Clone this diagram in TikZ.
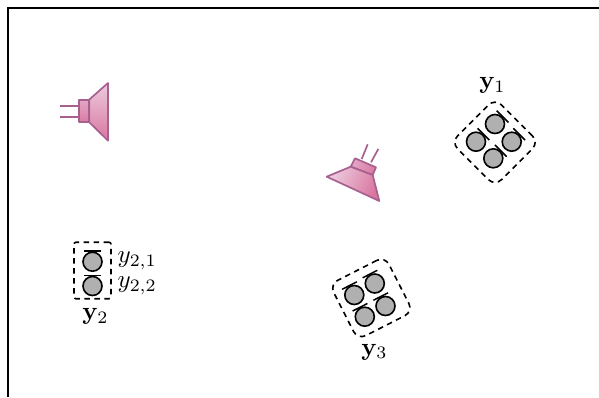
\documentclass[tikz,border=0pt]{standalone}
\definecolor{spkline}{HTML}{A8608F}
\definecolor{spklight}{HTML}{ECCBDF}
\definecolor{spkdark}{HTML}{D9769F}
\definecolor{spkmid}{HTML}{E3A6C6}
\definecolor{micfill}{HTML}{B0B0B0}
\tikzset{
  micnode/.style={circle,draw=black,fill=micfill,line width=1.6pt,minimum size=19pt,inner sep=0pt},
  micbar/.style={draw=black,line width=1.5pt},
  arraybox/.style={draw=black,line width=1.6pt,dash pattern=on 5.5pt off 4.5pt,rounded corners=9pt},
  spkwire/.style={draw=spkline,line width=1.7pt},
  spkedge/.style={draw=spkline,line width=1.7pt,line join=round},
  lab/.style={inner sep=0pt,scale=2.5},
}
\newcommand{\micat}[4]{%
  \node[micnode] (#1) at (#2,#3) {};
  \draw[micbar,shift={(#2,#3)},rotate=#4] (-8.3,-10.6) -- (8.3,-10.6);
}
\begin{document}
\begin{tikzpicture}[x=1pt,y=-1pt]
\useasboundingbox (0,0) rectangle (599,397);
\draw[black,line width=1.5pt] (8,397) -- (8,8) -- (599,8);
% speaker 1
\draw[spkwire] (60,105.7) -- (79,105.7);
\draw[spkwire] (60,117) -- (79,117);
\path[spkedge,top color=spkmid,bottom color=spkdark!90!spkmid] (79,100) rectangle (89.3,122.3);
\path[spkedge,top color=spklight,bottom color=spkdark] (89.3,99.5) -- (108,83) -- (108,140.7) -- (89.3,122.3) -- cycle;
% speaker 2
\draw[spkwire] (361.7,159) -- (367.7,144.3);
\draw[spkwire] (371,162.3) -- (378.3,149);
\path[spkedge,shading=axis,top color=spkmid,bottom color=spkdark!90!spkmid,shading angle=65] (355,158.3) -- (376,167.3) -- (372.7,175) -- (350.7,166.7) -- cycle;
\path[spkedge,shading=axis,top color=spklight,bottom color=spkdark,shading angle=65] (350.7,166.7) -- (372.7,175) -- (379.3,201) -- (326.7,176.7) -- cycle;
% y1
\node[arraybox,minimum width=62pt,minimum height=62pt,rotate=-45,inner sep=0pt] (box1) at (495,142.3) {};
\micat{m11}{495}{124}{-45}
\micat{m12}{476}{141.7}{-45}
\micat{m13}{511.7}{141.7}{-45}
\micat{m14}{493.3}{158.3}{-45}
\node[lab] (ly1) at (492.5,85.5) {$\mathbf{y}_1$};
% y2
\node[arraybox,rounded corners=2pt,minimum width=37pt,minimum height=56.5pt,inner sep=0pt] (box2) at (92.5,270.5) {};
\micat{m21}{92.5}{261.7}{0}
\micat{m22}{92.5}{286}{0}
\node[lab] (ly2) at (95.5,316.5) {$\mathbf{y}_2$};
\node[lab] (l21) at (137.2,260.5) {$y_{2,1}$};
\node[lab] (l22) at (137.2,286) {$y_{2,2}$};
% y3
\node[arraybox,minimum width=62pt,minimum height=62pt,rotate=27,inner sep=0pt] (box3) at (371.3,298) {};
\micat{m31}{354.3}{295}{27}
\micat{m32}{374.8}{283.5}{27}
\micat{m33}{364.8}{316.7}{27}
\micat{m34}{385.5}{306}{27}
\node[lab] (ly3) at (374.5,352) {$\mathbf{y}_3$};
\end{tikzpicture}
\end{document}
